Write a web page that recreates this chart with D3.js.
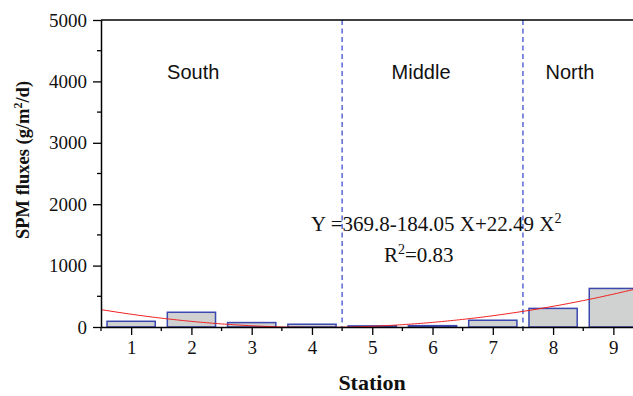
<!DOCTYPE html>
<html>
<head>
<meta charset="utf-8">
<script src="https://cdn.jsdelivr.net/npm/d3@7"></script>
<style>
  html, body { margin: 0; padding: 0; background: #fff; }
  svg { display: block; }
</style>
</head>
<body>
<svg id="chart" width="633" height="396"></svg>
<script>
// Suspended particulate matter fluxes per station
const stations = [1, 2, 3, 4, 5, 6, 7, 8, 9];
const fluxes = [93, 240, 72, 45, 18, 22, 110, 303, 628];
const yTicks = [0, 1000, 2000, 3000, 4000, 5000];
const regions = [
  { name: "South", at: 2.03 },
  { name: "Middle", at: 5.81 },
  { name: "North", at: 8.28 }
];
const boundaries = [4.5, 7.5];
// quadratic fit: Y = c0 + c1 X + c2 X^2
const fitCoef = [369.8, -184.05, 22.49];

const svg = d3.select("#chart");
const plotLeft = 101, plotTop = 20, plotBottom = 327, plotRight = 643.5;

const x = d3.scaleLinear().domain([0.5, 9.5]).range([plotLeft, plotRight]);
const y = d3.scaleLinear().domain([0, 5000]).range([plotBottom, plotTop]);

const serif = "'Liberation Serif', 'Times New Roman', serif";
const sans = "'Liberation Sans', Arial, sans-serif";

// bars
const bw = x(1.4) - x(0.6);
svg.append("g").selectAll("rect").data(stations).join("rect")
  .attr("x", d => x(d) - bw / 2)
  .attr("y", (d, i) => y(fluxes[i]))
  .attr("width", bw)
  .attr("height", (d, i) => y(0) - y(fluxes[i]))
  .attr("fill", "#d0d1d1")
  .attr("stroke", "#3a48b0")
  .attr("stroke-width", 1.5);

// region boundaries
svg.append("g").selectAll("line").data(boundaries).join("line")
  .attr("x1", d => x(d)).attr("x2", d => x(d))
  .attr("y1", plotTop).attr("y2", plotBottom)
  .attr("stroke", "#3d52c8")
  .attr("stroke-width", 1.3)
  .attr("stroke-dasharray", "5,3.5");

// fitted curve
const fitX = d3.range(0.5, 9.51, 0.05);
const fit = v => fitCoef[0] + fitCoef[1] * v + fitCoef[2] * v * v;
svg.append("path")
  .datum(fitX)
  .attr("fill", "none")
  .attr("stroke", "#f02020")
  .attr("stroke-width", 1)
  .attr("d", d3.line().x(d => x(d)).y(d => y(fit(d))));

// axes
const xAxis = svg.append("g").attr("transform", `translate(0,${plotBottom})`)
  .call(d3.axisBottom(x).tickValues(stations).tickSize(8).tickSizeOuter(0).tickPadding(6)
    .tickFormat(d3.format("d")));
xAxis.append("g").selectAll("line").data(d3.range(0.5, 9.6, 1)).join("line")
  .attr("x1", d => x(d)).attr("x2", d => x(d)).attr("y1", 0).attr("y2", 4)
  .attr("stroke", "#000").attr("stroke-width", 1.3);

const yAxis = svg.append("g").attr("transform", `translate(${plotLeft},0)`)
  .call(d3.axisLeft(y).tickValues(yTicks).tickSize(8).tickSizeOuter(0).tickPadding(6)
    .tickFormat(d3.format("d")));
yAxis.append("g").selectAll("line").data(d3.range(500, 5000, 1000)).join("line")
  .attr("x1", 0).attr("x2", -4).attr("y1", d => y(d)).attr("y2", d => y(d))
  .attr("stroke", "#000").attr("stroke-width", 1.3);

[xAxis, yAxis].forEach(a => {
  a.select(".domain").attr("stroke", "#000").attr("stroke-width", 1.5);
  a.selectAll(".tick line").attr("stroke", "#000").attr("stroke-width", 1.3);
  a.selectAll(".tick text").attr("font-family", serif).attr("font-size", 19).attr("fill", "#111");
});

// top frame line
svg.append("line")
  .attr("x1", plotLeft).attr("x2", 633).attr("y1", plotTop).attr("y2", plotTop)
  .attr("stroke", "#000").attr("stroke-width", 1.5);

// region labels
svg.append("g").selectAll("text").data(regions).join("text")
  .attr("x", d => x(d.at)).attr("y", 79)
  .attr("text-anchor", "middle")
  .attr("font-family", sans).attr("font-size", 20).attr("fill", "#111")
  .text(d => d.name);

// equation
const eq = svg.append("text")
  .attr("x", 311).attr("y", 231)
  .attr("font-family", serif).attr("font-size", 21).attr("fill", "#111");
eq.append("tspan").text("Y =369.8-184.05 X+22.49 X");
eq.append("tspan").attr("dy", -8).attr("font-size", 14).text("2");

const r2 = svg.append("text")
  .attr("x", 384).attr("y", 262)
  .attr("font-family", serif).attr("font-size", 21).attr("fill", "#111");
r2.append("tspan").text("R");
r2.append("tspan").attr("dy", -8).attr("font-size", 14).text("2");
r2.append("tspan").attr("dy", 8).text("=0.83");

// axis titles
svg.append("text")
  .attr("x", 372).attr("y", 390)
  .attr("text-anchor", "middle")
  .attr("font-family", serif).attr("font-size", 22).attr("font-weight", "bold").attr("fill", "#111")
  .text("Station");

const yt = svg.append("text")
  .attr("transform", "translate(29,160) rotate(-90)")
  .attr("text-anchor", "middle")
  .attr("font-family", serif).attr("font-size", 18.5).attr("font-weight", "bold").attr("fill", "#111");
yt.append("tspan").text("SPM fluxes (g/m");
yt.append("tspan").attr("dy", -7).attr("font-size", 12).text("2");
yt.append("tspan").attr("dy", 7).text("/d)");
</script>
</body>
</html>
